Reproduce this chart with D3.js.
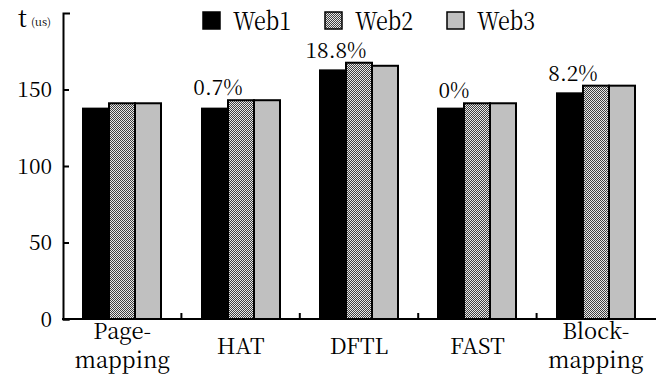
<!DOCTYPE html>
<html>
<head>
<meta charset="utf-8">
<script src="https://cdn.jsdelivr.net/npm/d3@7"></script>
<style>
  body { margin: 0; background: #fff; }
</style>
</head>
<body>
<div class="canvas"></div>
<script>
// chart data
const categories = ['Page-mapping', 'HAT', 'DFTL', 'FAST', 'Block-mapping'];
const catLines = [['Page-', 'mapping'], ['HAT'], ['DFTL'], ['FAST'], ['Block-', 'mapping']];
const series = ['Web1', 'Web2', 'Web3'];
const web1 = [137.5, 137.5, 162.5, 137.5, 147.5];
const web2 = [141, 143, 167.5, 141, 152.5];
const web3 = [141, 143, 165.5, 141, 152.5];
const percents = ['', '0.7%', '18.8%', '0%', '8.2%'];
const yTicks = [0, 50, 100, 150];

const values = [web1, web2, web3];

// serif face that renders reliably here
const serif = "'Noto Serif CJK SC'";

// dimensions
const dims = {width: 656, height: 377, left: 63, right: 655, top: 13, bottom: 319};

const svg = d3.select('.canvas')
    .append('svg')
    .attr('width', dims.width)
    .attr('height', dims.height);

// checker pattern for Web2
const defs = svg.append('defs');
const pat = defs.append('pattern')
    .attr('id', 'checker')
    .attr('width', 2).attr('height', 2)
    .attr('patternUnits', 'userSpaceOnUse');
pat.append('rect').attr('width', 2).attr('height', 2).attr('fill', '#e8e8e8');
pat.append('rect').attr('width', 1).attr('height', 1).attr('fill', '#404040');
pat.append('rect').attr('x', 1).attr('y', 1).attr('width', 1).attr('height', 1).attr('fill', '#404040');

const fills = ['#000', 'url(#checker)', '#c0c0c0'];

// scales
const x = d3.scaleBand().domain(categories).range([dims.left, dims.right]);
const xs = d3.scaleBand().domain(series).range([0, 80]).round(true);
const y = d3.scaleLinear().domain([0, 200]).range([dims.bottom, dims.top]);

// bars
const groups = svg.selectAll('g.grp')
    .data(categories)
    .enter().append('g')
    .attr('class', 'grp')
    .attr('transform', d => `translate(${Math.round(x(d) + (x.bandwidth() - 80) / 2)},0)`);

groups.selectAll('rect')
    .data((d, i) => series.map((s, j) => ({s, v: values[j][i], j})))
    .enter().append('rect')
    .attr('x', d => xs(d.s))
    .attr('y', d => y(d.v))
    .attr('width', xs.bandwidth())
    .attr('height', d => y(0) - y(d.v))
    .attr('fill', d => fills[d.j])
    .attr('stroke', '#000')
    .attr('stroke-width', 2);

// percent labels above groups
groups.append('text')
    .attr('x', xs('Web1') + xs.bandwidth() / 2 + 3)
    .attr('y', (d, i) => y(web2[i]) - 5)
    .attr('text-anchor', 'middle')
    .style('font-family', serif)
    .attr('font-size', 21)
    .text((d, i) => percents[i]);

// y axis (ticks inward)
const yAxis = d3.axisLeft(y)
    .tickValues(yTicks)
    .tickSizeInner(-6)
    .tickSizeOuter(-7)
    .tickPadding(11);

const yG = svg.append('g')
    .attr('transform', `translate(${dims.left},0)`)
    .call(yAxis);
yG.select('.domain').attr('stroke-width', 2);
yG.selectAll('.tick line').attr('stroke-width', 2);
yG.selectAll('.tick text')
    .style('font-family', serif)
    .attr('font-size', 21)
    .attr('x', -11)
    .attr('dy', '0.34em');

// x axis
const xG = svg.append('g');
xG.append('line')
    .attr('x1', dims.left - 1).attr('x2', dims.right + 1)
    .attr('y1', y(0)).attr('y2', y(0))
    .attr('stroke', '#000').attr('stroke-width', 2);
xG.selectAll('line.tk')
    .data(categories.slice(1))
    .enter().append('line')
    .attr('class', 'tk')
    .attr('x1', d => x(d)).attr('x2', d => x(d))
    .attr('y1', y(0)).attr('y2', y(0) - 6)
    .attr('stroke', '#000').attr('stroke-width', 2);

// category labels (two-line ones wrap)
const lab = xG.selectAll('text.cat')
    .data(categories)
    .enter().append('text')
    .attr('class', 'cat')
    .attr('text-anchor', 'middle')
    .style('font-family', serif)
    .attr('font-size', 22)
    .attr('transform', (d, i) => `translate(${x(d) + x.bandwidth() / 2},${catLines[i].length > 1 ? 339 : 354})`);
lab.selectAll('tspan')
    .data((d, i) => catLines[i])
    .enter().append('tspan')
    .attr('x', 0)
    .attr('dy', (d, k) => k === 0 ? 0 : 29)
    .text(d => d);

// axis title
svg.append('text')
    .attr('x', 18).attr('y', 27)
    .style('font-family', serif)
    .attr('font-size', 24)
    .text('t');
svg.append('text')
    .attr('x', 31).attr('y', 26)
    .style('font-family', serif)
    .attr('font-size', 11)
    .text('(us)');

// legend
const legend = svg.append('g').attr('transform', 'translate(203,12)');
const item = legend.selectAll('g')
    .data(series)
    .enter().append('g')
    .attr('transform', (d, i) => `translate(${i * 122},0)`);
item.append('rect')
    .attr('width', 17).attr('height', 17)
    .attr('fill', (d, i) => fills[i])
    .attr('stroke', '#000')
    .attr('stroke-width', 1.5);
item.append('text')
    .attr('x', 30).attr('y', 18)
    .style('font-family', serif)
    .attr('font-size', 25)
    .attr('textLength', 58)
    .attr('lengthAdjust', 'spacingAndGlyphs')
    .text(d => d);
</script>
</body>
</html>
